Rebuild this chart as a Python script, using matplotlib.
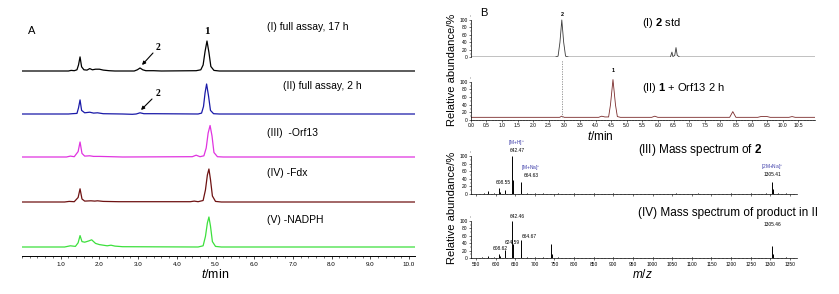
import matplotlib
matplotlib.use("Agg")
import matplotlib.pyplot as plt
from matplotlib.ticker import MultipleLocator, FixedLocator

plt.rcParams["font.family"] = ["Liberation Sans", "DejaVu Sans"]
plt.rcParams["mathtext.fontset"] = "custom"
plt.rcParams["mathtext.rm"] = "Liberation Sans"
plt.rcParams["mathtext.it"] = "Liberation Sans:italic"
plt.rcParams["mathtext.bf"] = "Liberation Sans:bold"

W, H = 839, 294

# ---- panel A: HPLC traces (time in min, relative height, peak 1 ~ 100) ----
a1_t = [0.0, 1.2, 1.27, 1.35, 1.42, 1.46, 1.50, 1.54, 1.60, 1.68, 1.75, 1.82, 1.90, 2.00, 2.10, 2.25,
        2.40, 2.90, 2.98, 3.05, 3.12, 3.20, 3.40, 3.60, 4.50, 4.62, 4.68, 4.73, 4.78, 4.83, 4.88, 4.96, 5.1, 10.15]
a1_y = [0, 0, 2, 1, 4, 20, 47, 14, 4, 3, 8, 4, 6, 6, 3, 1,
        0, 0, 4, 10, 4, 1, 1, 0, 1, 4, 20, 65, 100, 62, 15, 2, 0, 0]
a2_t = [0.0, 1.2, 1.30, 1.42, 1.46, 1.50, 1.54, 1.62, 1.75, 1.85, 1.95, 2.10, 2.60, 2.85, 2.95,
        3.05, 3.15, 3.40, 4.55, 4.64, 4.69, 4.73, 4.77, 4.82, 4.87, 4.95, 5.1, 10.15]
a2_y = [0, 0, 1, 2, 20, 47, 12, 4, 6, 3, 4, 1, 0, -1, 0,
        4, 1, 1, 0, 3, 25, 70, 100, 60, 12, 1, 0, 0]
a3_t = [0.0, 1.15, 1.25, 1.35, 1.45, 1.50, 1.55, 1.62, 1.75, 1.85, 2.00, 2.30, 2.60, 4.40, 4.50,
        4.60, 4.70, 4.76, 4.81, 4.86, 4.91, 4.96, 5.05, 5.2, 10.15]
a3_y = [0, 0, 3, 1, 18, 50, 12, 3, 4, 2, 2, 1, 0, 1, 6,
        1, 4, 30, 80, 105, 70, 15, 1, 0, 0]
a4_t = [0.0, 1.1, 1.22, 1.35, 1.45, 1.50, 1.55, 1.62, 1.78, 1.88, 1.95, 2.10, 2.50, 3.10, 3.60,
        4.35, 4.45, 4.55, 4.68, 4.74, 4.79, 4.83, 4.87, 4.92, 5.00, 5.15, 10.15]
a4_y = [0, 0, 2, 1, 15, 44, 10, 3, 4, 3, 4, 2, 1, 1, 1,
        1, 3, 1, 5, 40, 90, 110, 75, 20, 2, 0, 0]
a5_t = [0.0, 1.1, 1.25, 1.38, 1.45, 1.50, 1.55, 1.62, 1.72, 1.80, 1.90, 2.00, 2.20, 2.30, 2.40,
        2.60, 4.55, 4.68, 4.74, 4.79, 4.83, 4.87, 4.92, 5.00, 5.15, 10.15]
a5_y = [0, 0, 4, 2, 14, 38, 18, 16, 20, 24, 12, 8, 4, 6, 3,
        1, 0, 4, 35, 80, 100, 70, 18, 2, 0, 0]
a_traces = [(a1_t, a1_y, "#000000"), (a2_t, a2_y, "#1a1aa8"), (a3_t, a3_y, "#e033e0"),
            (a4_t, a4_y, "#6e1212"), (a5_t, a5_y, "#3de03d")]
a_labels = ["(I) full assay, 17 h", "(II) full assay, 2 h", "(III)  -Orf13", "(IV) -Fdx", "(V) -NADPH"]

# ---- panel B: LC traces (t/min, relative abundance %) ----
b1_t = [0.0, 2.70, 2.80, 2.86, 2.92, 2.98, 3.04, 3.15, 6.40, 6.45, 6.48, 6.54, 6.58, 6.62, 6.70, 11.03]
b1_y = [0.5, 0.5, 3, 40, 100, 40, 3, 0.5, 0.5, 14, 2, 5, 26, 5, 0.5, 0.5]
b2_t = [0.0, 2.85, 2.92, 3.00, 4.10, 4.20, 4.30, 4.42, 4.48, 4.56, 4.64, 4.70, 4.80, 5.80, 5.90, 6.00,
        8.30, 8.40, 8.50, 9.20, 9.30, 9.50, 9.60, 10.20, 10.30, 10.40, 11.03]
b2_y = [7, 7, 10, 7, 7, 10, 8, 8, 40, 106, 40, 9, 7, 7, 10, 7,
        7, 22, 7, 7, 9, 9, 7, 7, 9, 7, 7]
b_ticks = [0.5 * i for i in range(22)]   # 0.0 ... 10.5

# ---- mass spectra (m/z, relative abundance %) ----
ms3_mz = [570, 580.5, 596, 608.55, 612, 624.5, 642.47, 643.5, 644.5, 664.63, 665.6, 680, 700, 720, 760,
          800, 850, 900, 940, 1000, 1060, 1115, 1150, 1200, 1250, 1290, 1305.41, 1306.4, 1307.4, 1320, 1340]
ms3_int = [2, 7, 3, 15, 4, 10, 100, 38, 8, 32, 10, 3, 2, 2, 2,
           1.5, 1.5, 1.5, 1, 1, 1.5, 3, 1, 1.5, 1.5, 2, 32, 12, 4, 3, 2]
ms4_mz = [565, 580, 596, 608.62, 611, 624.59, 642.46, 643.5, 664.67, 665.7, 680, 700, 720, 741.5, 742.5,
          760, 800, 850, 900, 950, 1000, 1050, 1100, 1150, 1200, 1250, 1305.46, 1306.5, 1340]
ms4_int = [2, 5, 2, 10, 5, 22, 100, 38, 50, 12, 3, 2, 2, 38, 10,
           2, 2, 1.5, 1.5, 1.5, 1.5, 1.5, 1.5, 1.5, 1.5, 1.5, 32, 10, 2]


def rect(x0, y0, x1, y1):
    return [x0 / W, 1 - y1 / H, (x1 - x0) / W, (y1 - y0) / H]


def fxy(x, y):
    return x / W, 1 - y / H


fig = plt.figure(figsize=(W / 100, H / 100), dpi=100)
fig.patch.set_facecolor("white")

# ================= panel A =================
axA = fig.add_axes(rect(22, 20, 415, 256))
offsets = [185, 142, 99, 54, 9]   # baselines in px above the axis
scale = 0.30                      # px per unit of peak height
for (t, y, c), off in zip(a_traces, offsets):
    axA.plot(t, [off + v * scale for v in y], color=c, lw=0.9)
axA.set_xlim(0, 10.155)
axA.set_ylim(0, 236)
for s in ("left", "right", "top"):
    axA.spines[s].set_visible(False)
axA.spines["bottom"].set_linewidth(0.7)
axA.set_yticks([])
axA.xaxis.set_major_locator(FixedLocator([1, 2, 3, 4, 5, 6, 7, 8, 9, 10]))
axA.xaxis.set_minor_locator(MultipleLocator(0.2))
axA.set_xticklabels(["%.1f" % v for v in range(1, 11)])
axA.tick_params(axis="x", which="major", length=2.5, width=0.5, labelsize=4.5, pad=1.5)
axA.tick_params(axis="x", which="minor", length=1.3, width=0.4)
fig.text(*fxy(215, 275), "$t$/min", fontsize=9, ha="center", va="center")

fig.text(*fxy(28, 31), "A", fontsize=8, ha="left", va="center")
fig.text(*fxy(207, 31), "1", fontsize=8, ha="center", va="center",
         family="Liberation Serif", weight="bold")
label_pos = [(267, 27), (283, 86), (267, 133), (267, 173), (267, 220)]
for txt, (x, y) in zip(a_labels, label_pos):
    fig.text(*fxy(x, y), txt, fontsize=7.5, ha="left", va="center")
for (tx, ty), (x0, y0), (x1, y1) in [((158, 47), (153, 53), (142, 65)),
                                     ((158, 94), (152, 99), (141, 110))]:
    fig.text(*fxy(tx, ty), "2", fontsize=7, ha="center", va="center",
             family="Liberation Serif", weight="bold")
    axA.annotate("", xy=fxy(x1, y1), xytext=fxy(x0, y0),
                 xycoords="figure fraction", textcoords="figure fraction",
                 arrowprops=dict(arrowstyle="-|>", color="black", lw=0.8,
                                 mutation_scale=5, shrinkA=0, shrinkB=0))

# ================= panel B: LC =================
small = 3.5
axB1 = fig.add_axes(rect(470.7, 14, 815, 57.3))
axB1.plot(b1_t, b1_y, color="#3a3a3a", lw=0.6)
axB1.set_xlim(0, 11.035)
axB1.set_ylim(0, 116)
axB2 = fig.add_axes(rect(470.7, 75, 815, 120))
axB2.plot(b2_t, b2_y, color="#7a2a2a", lw=0.6)
axB2.set_xlim(0, 11.035)
axB2.set_ylim(0, 118)
axB2.plot([2.92, 2.92], [8, 158], color="#888888", lw=0.6, ls=(0, (1.5, 1.5)), clip_on=False)

for ax, show_x in ((axB1, False), (axB2, True)):
    for s in ("right", "top"):
        ax.spines[s].set_visible(False)
    ax.spines["left"].set_bounds(0, 100)
    ax.spines["left"].set_linewidth(0.5)
    ax.yaxis.set_major_locator(FixedLocator([0, 20, 40, 60, 80, 100]))
    ax.yaxis.set_minor_locator(MultipleLocator(10))
    ax.tick_params(axis="y", which="major", length=1.5, width=0.4, labelsize=small, pad=0.8)
    ax.tick_params(axis="y", which="minor", length=0.8, width=0.3)
    if show_x:
        ax.spines["bottom"].set_linewidth(0.5)
        ax.xaxis.set_major_locator(FixedLocator(b_ticks))
        ax.xaxis.set_minor_locator(MultipleLocator(0.1))
        ax.xaxis.set_major_formatter(plt.FormatStrFormatter("%.1f"))
        ax.tick_params(axis="x", which="major", length=1.5, width=0.4, labelsize=small, pad=1)
        ax.tick_params(axis="x", which="minor", length=0.8, width=0.3)
    else:
        ax.spines["bottom"].set_visible(False)
        ax.set_xticks([])

fig.text(*fxy(600, 137), "$t$/min", fontsize=8.5, ha="center", va="center")
fig.text(*fxy(480, 13), "B", fontsize=8, ha="left", va="center")
fig.text(*fxy(562, 14), "2", fontsize=4, ha="center", va="center", weight="bold")
fig.text(*fxy(613, 71), "1", fontsize=4, ha="center", va="center", weight="bold")
fig.text(*fxy(642, 23), r"(I) $\mathbf{2}$ std", fontsize=8, ha="left", va="center")
fig.text(*fxy(642, 88), r"(II) $\mathbf{1}$ + Orf13 2 h", fontsize=8, ha="left", va="center")
fig.text(*fxy(452, 70), "Relative abundance/%", fontsize=8, rotation=90, ha="center", va="center")
fig.text(*fxy(452, 208), "Relative abundance/%", fontsize=8, rotation=90, ha="center", va="center")

# ================= panel B: MS =================
axM3 = fig.add_axes(rect(470.7, 150, 797, 194))
axM3.vlines(ms3_mz, 0, ms3_int, color="black", lw=0.7)
axM3.set_ylim(0, 116)
axM4 = fig.add_axes(rect(470.7, 214, 797, 258))
axM4.vlines(ms4_mz, 0, ms4_int, color="black", lw=0.7)
axM4.set_ylim(0, 119)
for ax, show_lab in ((axM3, False), (axM4, True)):
    ax.axhline(1.2, color="black", lw=0.4)
    ax.set_xlim(536.5, 1368)
    for s in ("right", "top"):
        ax.spines[s].set_visible(False)
    ax.spines["left"].set_bounds(0, 100)
    ax.spines["left"].set_linewidth(0.5)
    ax.spines["bottom"].set_linewidth(0.5)
    ax.yaxis.set_major_locator(FixedLocator([0, 20, 40, 60, 80, 100]))
    ax.yaxis.set_minor_locator(MultipleLocator(10))
    ax.tick_params(axis="y", which="major", length=1.5, width=0.4, labelsize=small, pad=0.8)
    ax.tick_params(axis="y", which="minor", length=0.8, width=0.3)
    ax.xaxis.set_major_locator(MultipleLocator(50))
    ax.xaxis.set_minor_locator(MultipleLocator(10))
    ax.tick_params(axis="x", which="major", length=1.5, width=0.4, labelsize=small, pad=1.5,
                   labelbottom=show_lab)
    ax.tick_params(axis="x", which="minor", length=0.8, width=0.3)

fig.text(*fxy(642, 274), "$m/z$", fontsize=8.5, ha="center", va="center")
fig.text(*fxy(638, 150), r"(III) Mass spectrum of $\mathbf{2}$", fontsize=8.5, ha="left", va="center")
fig.text(*fxy(638, 213), "(IV) Mass spectrum of product in II", fontsize=8.5, ha="left", va="center")

blue = "#3a3aa8"
ms_notes = [
    (517, 143, "[M+H]$^{+}$", blue), (517, 150, "642.47", "black"),
    (531, 168, "[M+Na]$^{+}$", blue), (531, 175.5, "664.63", "black"),
    (503, 182, "608.55", "black"),
    (772, 167, "[2M+Na]$^{+}$", blue), (772, 175, "1305.41", "black"),
    (517, 216, "642.46", "black"), (529, 236.5, "664.67", "black"),
    (512.5, 242.5, "624.59", "black"), (500, 248, "608.62", "black"),
    (772, 224, "1305.46", "black"),
]
for x, y, s, c in ms_notes:
    fig.text(*fxy(x, y), s, fontsize=3.5, color=c, ha="center", va="center")

fig.savefig("out.png", dpi=100, facecolor="white")
